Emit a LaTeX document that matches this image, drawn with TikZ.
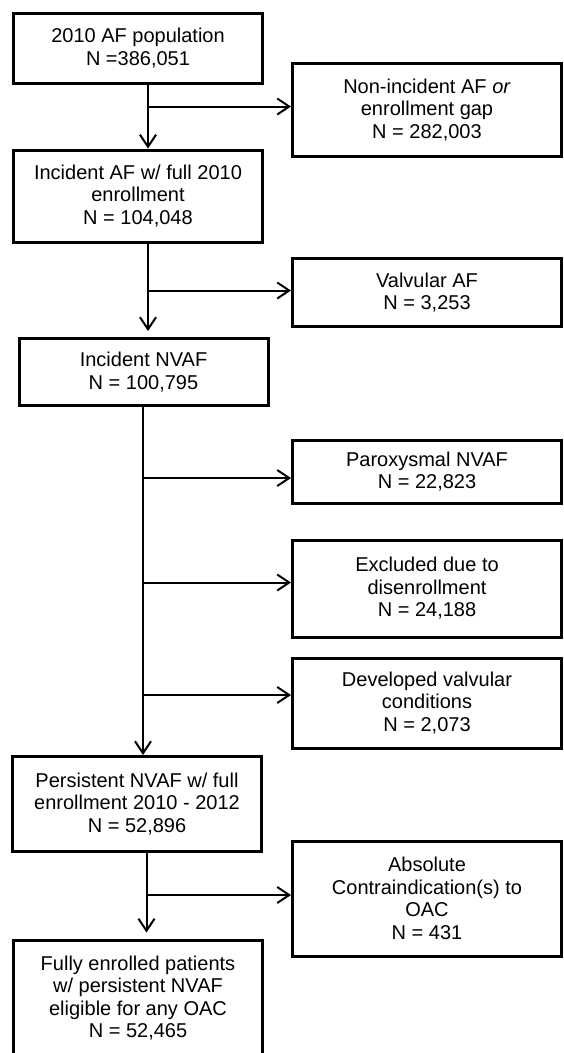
\documentclass[tikz,border=0pt]{standalone}
\usepackage{fontspec}
\setmainfont{Liberation Sans}
\usetikzlibrary{arrows.meta}

\begin{document}
\begin{tikzpicture}[x=1pt, y=-1pt, >={Straight Barb[length=12pt,width=16pt]},
    box/.style={draw, line width=3pt, align=center, inner sep=0pt,
        font=\fontsize{20}{22.5}\selectfont, minimum width=249pt},
    side/.style={box, minimum width=269pt},
    flow/.style={->, line width=2pt}]

    \useasboundingbox (0,0) rectangle (563,1053);
    \clip (0,0) rectangle (563,1053);

    % Main column
    \node[box, minimum height=70pt] (pop) at (138,48) {2010 AF population\\N =386,051};
    \node[box, minimum height=92pt] (inc) at (138,196) {Incident AF w/ full 2010\\enrollment\\N = 104,048};
    \node[box, minimum height=67pt] (nvaf) at (143.5,372) {Incident NVAF\\N = 100,795};
    \node[box, minimum height=95pt] (pers) at (137,804) {Persistent NVAF w/ full\\enrollment 2010 - 2012\\N = 52,896};
    \node[box, minimum height=116pt] (elig) at (138,998) {Fully enrolled patients\\w/ persistent NVAF\\eligible for any OAC\\N = 52,465};

    % Exclusions
    \node[side, minimum height=93pt] (gap) at (427,110) {Non-incident AF \textit{or}\\enrollment gap\\N = 282,003};
    \node[side, minimum height=68pt] (valv) at (427,292.5) {Valvular AF\\N = 3,253};
    \node[side, minimum height=63pt] (parox) at (427,471.5) {Paroxysmal NVAF\\N = 22,823};
    \node[side, minimum height=97pt] (disen) at (427,588.5) {Excluded due to\\disenrollment\\N = 24,188};
    \node[side, minimum height=90pt] (devel) at (427,703) {Developed valvular\\conditions\\N = 2,073};
    \node[side, minimum height=115pt] (contra) at (427,898.5) {Absolute\\Contraindication(s) to\\OAC\\N = 431};

    % Trunks
    \coordinate (t1) at (148,0);
    \coordinate (t2) at (148,0);
    \coordinate (t3) at (143,0);
    \coordinate (t4) at (146.5,0);

    \draw[flow] (pop.south -| t1) -- (inc.north -| t1);
    \draw[flow, shorten >=6pt] (inc.south -| t2) -- (nvaf.north -| t2);
    \draw[flow] (nvaf.south -| t3) -- (pers.north -| t3);
    \draw[flow, shorten >=6pt] (pers.south -| t4) -- (elig.north -| t4);

    % Branches (entry points sit a little off centre)
    \foreach \tr/\ex/\dy in {t1/gap/3.5, t2/valv/2, t3/parox/-6.5, t3/disen/6, t3/devel/8, t4/contra/3.5} {
        \coordinate (\ex-in) at ([yshift=\dy pt]\ex.west);
        \draw[flow] (\tr |- \ex-in) -- (\ex-in);
    }

\end{tikzpicture}
\end{document}
